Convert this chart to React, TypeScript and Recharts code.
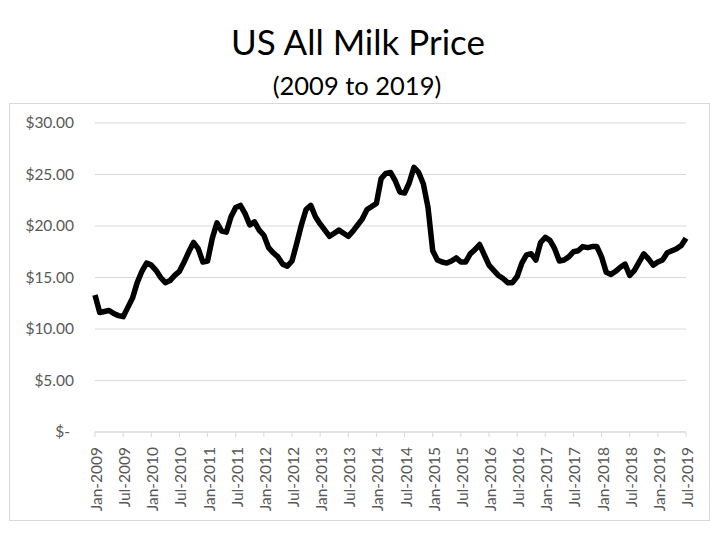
import React from "react";
import { LineChart, Line, XAxis, YAxis, CartesianGrid } from "recharts";

// US All Milk Price, $/cwt, monthly
const YEARS = [2009, 2010, 2011, 2012, 2013, 2014, 2015, 2016, 2017, 2018, 2019];
const MONTHS = ["Jan", "Feb", "Mar", "Apr", "May", "Jun", "Jul", "Aug", "Sep", "Oct", "Nov", "Dec"];

const price2009 = [13.3, 11.6, 11.7, 11.8, 11.5, 11.3, 11.2, 12.1, 13.0, 14.5, 15.6, 16.4];
const price2010 = [16.2, 15.7, 15.0, 14.5, 14.7, 15.2, 15.6, 16.5, 17.5, 18.4, 17.8, 16.5];
const price2011 = [16.6, 18.8, 20.3, 19.5, 19.4, 20.9, 21.8, 22.0, 21.2, 20.1, 20.4, 19.6];
const price2012 = [19.1, 17.9, 17.4, 17.0, 16.3, 16.1, 16.6, 18.3, 20.1, 21.6, 22.0, 20.9];
const price2013 = [20.2, 19.6, 19.0, 19.3, 19.6, 19.3, 19.0, 19.5, 20.1, 20.7, 21.6, 21.9];
const price2014 = [22.2, 24.6, 25.1, 25.2, 24.4, 23.3, 23.2, 24.2, 25.7, 25.2, 24.1, 21.8];
const price2015 = [17.6, 16.7, 16.5, 16.4, 16.6, 16.9, 16.5, 16.5, 17.3, 17.7, 18.2, 17.2];
const price2016 = [16.2, 15.7, 15.2, 14.9, 14.5, 14.5, 15.1, 16.4, 17.2, 17.3, 16.7, 18.4];
const price2017 = [18.9, 18.6, 17.8, 16.6, 16.7, 17.0, 17.5, 17.6, 18.0, 17.9, 18.0, 18.0];
const price2018 = [17.0, 15.5, 15.3, 15.6, 16.0, 16.3, 15.2, 15.7, 16.5, 17.3, 16.8, 16.2];
const price2019 = [16.5, 16.7, 17.4, 17.6, 17.8, 18.1, 18.8];

const PRICES = [
  price2009, price2010, price2011, price2012, price2013, price2014,
  price2015, price2016, price2017, price2018, price2019,
];

const Y_TICKS = [0, 5, 10, 15, 20, 25, 30];

const data = PRICES.flatMap((vals, yi) =>
  vals.map((v, mi) => ({ month: `${MONTHS[mi]}-${YEARS[yi]}`, price: v }))
);

const FONT = "Lato, 'Open Sans', sans-serif";
const LABEL = "#595959";

const YTick = (props: any) => {
  const { y, payload } = props;
  const v = payload.value;
  const txt = v === 0 ? "$-" : `$${v.toFixed(2)}`;
  return (
    <text x={v === 0 ? 70 : 74} y={y} dy={5} textAnchor="end" fill={LABEL} fontSize={15.5} fontFamily={FONT}>
      {txt}
    </text>
  );
};

const XTick = (props: any) => {
  const { x, payload } = props;
  return (
    <g transform={`translate(${x + 2},447)`}>
      <text transform="rotate(-90)" x={0} y={5} textAnchor="end" fill={LABEL} fontSize={15.5} fontFamily={FONT}>
        {payload.value}
      </text>
    </g>
  );
};

export default function App() {
  return (
    <div style={{ position: "absolute", left: 0, top: 0, width: 720, height: 540, background: "#fff", fontFamily: FONT }}>
      <div
        style={{
          position: "absolute", left: 9, top: 103, width: 699, height: 416,
          border: "1px solid #d9d9d9",
        }}
      />
      <svg width={720} height={110} style={{ position: "absolute", left: 0, top: 0 }}>
        <text x={358} y={55} textAnchor="middle" fontSize={35} fontFamily={FONT} fill="#000">
          US All Milk Price
        </text>
        <text x={357} y={95} textAnchor="middle" fontSize={25.5} fontFamily={FONT} fill="#000">
          (2009 to 2019)
        </text>
      </svg>
      <div style={{ position: "absolute", left: 0, top: 0 }}>
        <LineChart width={720} height={540} data={data} margin={{ top: 123, right: 34, bottom: 28, left: 15 }}>
          <CartesianGrid vertical={false} stroke="#d9d9d9" />
          <XAxis
            dataKey="month"
            interval={5}
            height={80}
            tick={<XTick />}
            tickSize={5}
            tickLine={{ stroke: "#d9d9d9" }}
            axisLine={{ stroke: "#d9d9d9" }}
          />
          <YAxis
            width={80}
            domain={[0, 30]}
            ticks={Y_TICKS}
            tick={<YTick />}
            axisLine={false}
            tickLine={false}
          />
          <Line
            type="linear"
            dataKey="price"
            stroke="#000"
            strokeWidth={5.5}
            strokeLinejoin="round"
            dot={false}
            isAnimationActive={false}
          />
        </LineChart>
      </div>
    </div>
  );
}
